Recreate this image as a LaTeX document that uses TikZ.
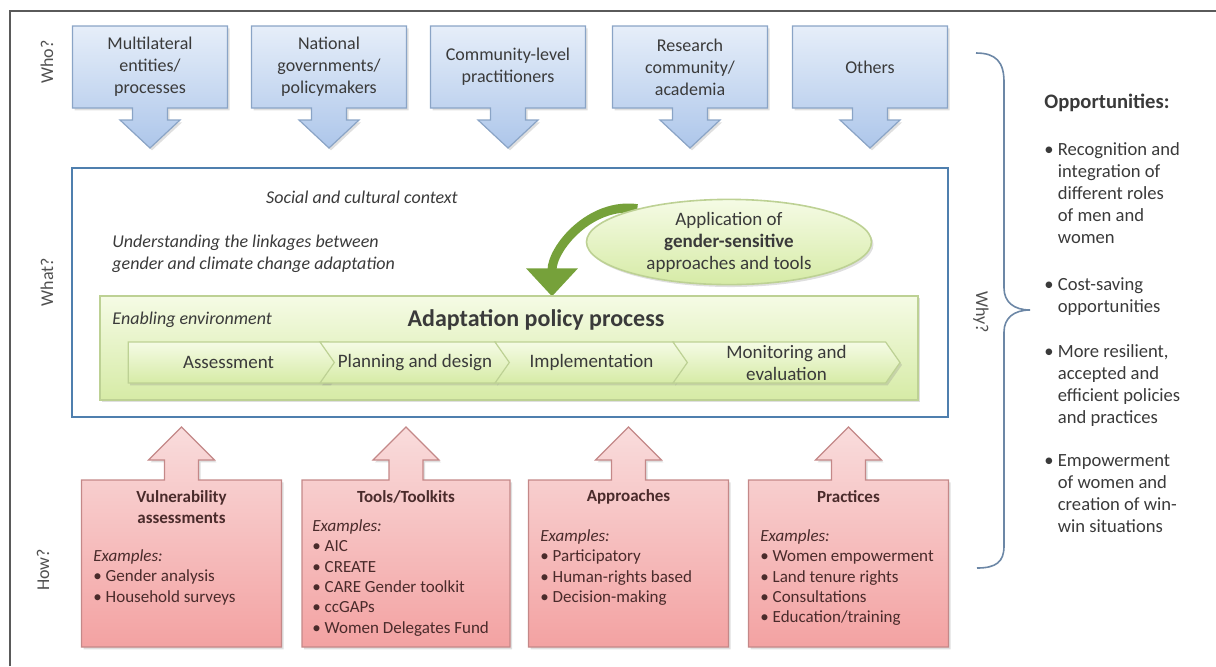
\documentclass[tikz,border=0pt]{standalone}
\usepackage{fontspec}
\setmainfont{Carlito}
\usetikzlibrary{positioning,calc,arrows.meta,shapes.geometric,shapes.symbols,shadows,backgrounds}

\definecolor{frameline}{HTML}{5A5A5A}
\definecolor{whotop}{HTML}{E6EEF9}
\definecolor{whobot}{HTML}{ADC6EA}
\definecolor{whoedge}{HTML}{8AA4C6}
\definecolor{howtop}{HTML}{F9DCDC}
\definecolor{howbot}{HTML}{F3A2A2}
\definecolor{howedge}{HTML}{C48888}
\definecolor{whatedge}{HTML}{4F7FAE}
\definecolor{envtop}{HTML}{F5FBE5}
\definecolor{envbot}{HTML}{D6EBA6}
\definecolor{envedge}{HTML}{BDD194}
\definecolor{arrowgreen}{HTML}{76A13A}
\definecolor{bracecol}{HTML}{6C87A6}
\definecolor{txt}{HTML}{3A3A3A}
\definecolor{sidetxt}{HTML}{505050}
\definecolor{howtxt}{HTML}{4A2B2B}

\newcommand{\oppind}{\hphantom{\textbullet\ }}
\newcommand{\downcall}[1]{%
  \draw[whoshape] (#1.north west) -- (#1.north east) -- (#1.south east)
    -- ($(#1.south)+(17.5,0)$) -- ($(#1.south)+(17.5,12)$) -- ($(#1.south)+(30,12)$)
    -- ($(#1.south)+(0,40)$) -- ($(#1.south)+(-30,12)$) -- ($(#1.south)+(-17.5,12)$)
    -- ($(#1.south)+(-17.5,0)$) -- (#1.south west) -- cycle;}
\newcommand{\upcall}[1]{%
  \draw[howshape] (#1.south west) -- (#1.north west) -- ($(#1.north)+(-17,0)$)
    -- ($(#1.north)+(-17,-20)$) -- ($(#1.north)+(-33,-20)$) -- ($(#1.north)+(0,-53)$)
    -- ($(#1.north)+(33,-20)$) -- ($(#1.north)+(17,-20)$) -- ($(#1.north)+(17,0)$)
    -- (#1.north east) -- (#1.south east) -- cycle;}

\tikzset{
  softshadow/.style={drop shadow={opacity=0.25, shadow xshift=1pt, shadow yshift=-1.2pt}},
  whobox/.style={rectangle, minimum width=77.5pt, minimum height=41pt, inner sep=0pt, outer sep=0pt,
    align=center, text=txt, font=\fontsize{9}{11}\selectfont},
  whoshape/.style={draw=whoedge, line width=0.6pt, top color=whotop, bottom color=whobot, softshadow},
  howbox/.style={rectangle, minimum width=100pt, minimum height=83.5pt, inner sep=0pt, outer sep=0pt},
  howshape/.style={draw=howedge, line width=0.6pt, top color=howtop, bottom color=howbot, softshadow},
  howhead/.style={font=\fontsize{8.5}{10.2}\selectfont\bfseries, text=howtxt, align=center, inner sep=0pt},
  howlist/.style={font=\fontsize{8.5}{10.2}\selectfont, text=howtxt, align=left, inner sep=0pt, anchor=north west},
  side/.style={font=\fontsize{9}{11}\selectfont, text=sidetxt, inner sep=0pt},
  whatbox/.style={rectangle, minimum width=438pt, minimum height=124.5pt, draw=whatedge, line width=1.2pt},
  envbox/.style={rectangle, minimum width=409pt, minimum height=52pt, draw=envedge, line width=0.6pt,
    top color=envtop, bottom color=envbot, softshadow},
  stage/.style={signal, signal to=east, signal pointer angle=110, minimum height=20.5pt, inner sep=0pt,
    draw=envedge, line width=0.6pt, top color=envtop, bottom color=envbot, softshadow,
    align=center, text=txt, font=\fontsize{9.5}{11}\selectfont},
  stagein/.style={stage, signal from=west},
  envtitle/.style={font=\fontsize{12}{14}\selectfont\bfseries, text=txt, inner sep=0pt},
  note/.style={font=\fontsize{9}{11}\selectfont\itshape, text=txt, inner sep=0pt},
  appl/.style={ellipse, minimum width=142.5pt, minimum height=41.5pt, inner sep=0pt, draw=envedge,
    line width=0.8pt, top color=envtop, bottom color=envbot, softshadow, align=center, text=txt,
    font=\fontsize{9.5}{11}\selectfont},
  greenarrow/.style={draw=arrowgreen, line width=4.5pt, -{Triangle[width=25pt,length=14pt]}},
  brace/.style={draw=bracecol, line width=0.8pt},
  opptitle/.style={font=\fontsize{10.3}{12}\selectfont\bfseries, text=txt, inner sep=0pt},
  opp/.style={font=\fontsize{9.3}{11}\selectfont, text=txt, align=left, inner sep=0pt, anchor=north west},
}

\begin{document}
\begin{tikzpicture}[x=0.5pt, y=-0.5pt]
    \useasboundingbox (0,0) rectangle (1216,666);
    \draw[frameline, line width=1.2pt] (10,666) -- (10,11) -- (1216,11);

    % who
    \node[side, rotate=90] (who) at (47,62) {Who?};
    \node[whobox] (multi)    at (150,67) {Multilateral\\entities/\\processes};
    \node[whobox] (natgov)   at (329,67) {National\\governments/\\policymakers};
    \node[whobox] (commun)   at (508,67) {Community-level\\practitioners};
    \node[whobox] (research) at (690,67) {Research\\community/\\academia};
    \node[whobox] (others)   at (870,67) {Others};

    % what
    \node[side, rotate=90] (whatlbl) at (47,282) {What?};
    \node[whatbox] (what) at (510,292.5) {};
    \node[note] (social) at (362,197) {Social and cultural context};
    \node[note, anchor=west, align=left] (linkage) at (112,254) {Understanding the linkages between\\gender and climate change adaptation};
    \node[envbox] (env) at (509,348) {};
    \node[note, anchor=west] (enabling) at (112,320) {Enabling environment};
    \node[envtitle] (apptitle) at (536,320) {Adaptation policy process};
    \node[stage, minimum width=107.5pt]  (assess)  at (228.5,362.5) {Assessment};
    \node[stagein, minimum width=95pt]   (plan)    at (415,362.5)   {Planning and design};
    \node[stagein, minimum width=96.5pt] (implem)  at (591.5,362.5) {Implementation};
    \node[stagein, minimum width=113.5pt] (monitor) at (786.5,362.5) {Monitoring and\\evaluation};
    \node[appl] (gendapp) at (729,242) {Application of\\\textbf{gender-sensitive}\\approaches and tools};

    % how
    \node[side, rotate=90] (how) at (43,570) {How?};
    \node[howbox] (vuln)                       at (181.5,563.5) {};
    \node[howbox, minimum width=104pt] (tools) at (406,563.5)   {};
    \node[howbox] (approach)                   at (628.5,563.5) {};
    \node[howbox] (practice)                   at (848.5,563.5) {};
    \node[howhead] (vulnhead)     at (181.5,507) {Vulnerability\\assessments};
    \node[howhead] (toolshead)    at (406,497)   {Tools/Toolkits};
    \node[howhead] (approachhead) at (628.5,497) {Approaches};
    \node[howhead] (practicehead) at (848.5,497) {Practices};
    \node[howlist] (vulnex) at (93,549) {\textit{Examples:}\\\textbullet\ Gender analysis\\\textbullet\ Household surveys};
    \node[howlist] (toolsex) at (312,519) {\textit{Examples:}\\\textbullet\ AIC\\\textbullet\ CREATE\\\textbullet\ CARE Gender toolkit\\\textbullet\ ccGAPs\\\textbullet\ Women Delegates Fund};
    \node[howlist] (approachex) at (540,529) {\textit{Examples:}\\\textbullet\ Participatory\\\textbullet\ Human-rights based\\\textbullet\ Decision-making};
    \node[howlist] (practiceex) at (760,529) {\textit{Examples:}\\\textbullet\ Women empowerment\\\textbullet\ Land tenure rights\\\textbullet\ Consultations\\\textbullet\ Education/training};

    % why
    \node[side, rotate=-90] (why) at (981,312) {Why?};
    \draw[brace] (976,53) .. controls (996,53) and (1004,62) .. (1004,82) -- (1004,288)
        .. controls (1004,302) and (1014,310) .. (1030,310)
        .. controls (1014,310) and (1004,318) .. (1004,332) -- (1004,546)
        .. controls (1004,562) and (996,568) .. (977,568);
    \node[opptitle, anchor=west] (opps) at (1044,103) {Opportunities:};
    \node[opp] (opp1) at (1044,142) {\textbullet\ Recognition and\\\oppind integration of\\\oppind different roles\\\oppind of men and\\\oppind women};
    \node[opp] (opp2) at (1044,277) {\textbullet\ Cost-saving\\\oppind opportunities};
    \node[opp] (opp3) at (1044,344) {\textbullet\ More resilient,\\\oppind accepted and\\\oppind efficient policies\\\oppind and practices};
    \node[opp] (opp4) at (1044,454) {\textbullet\ Empowerment\\\oppind of women and\\\oppind creation of win-\\\oppind win situations};

    \begin{pgfonlayer}{background}
        \downcall{multi}
        \downcall{natgov}
        \downcall{commun}
        \downcall{research}
        \downcall{others}
        \upcall{vuln}
        \upcall{tools}
        \upcall{approach}
        \upcall{practice}
        \draw[greenarrow] (gendapp.160) to[out=172, in=90] ($(env.north)+(43,1)$);
    \end{pgfonlayer}
\end{tikzpicture}
\end{document}
